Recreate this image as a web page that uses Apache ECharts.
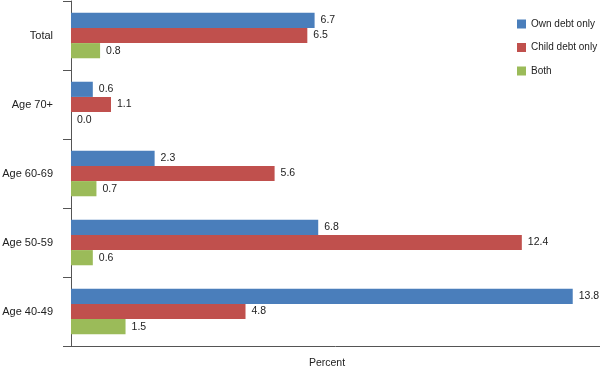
<!DOCTYPE html>
<html><head><meta charset="utf-8">
<script src="https://cdn.jsdelivr.net/npm/echarts@6/dist/echarts.min.js"></script>
<style>html,body{margin:0;padding:0;background:#fff}#c{width:600px;height:369px}</style>
</head><body><div id="c"></div>
<script>
var categories = ['Total', 'Age 70+', 'Age 60-69', 'Age 50-59', 'Age 40-49'];
var ownDebt = [6.7, 0.6, 2.3, 6.8, 13.8];
var childDebt = [6.5, 1.1, 5.6, 12.4, 4.8];
var both = [0.8, 0.0, 0.7, 0.6, 1.5];
var seriesNames = ['Own debt only', 'Child debt only', 'Both'];
var colors = ['#4a7ebb', '#c0504d', '#9bbb59'];
var font = '"Liberation Sans Narrow", "Arial Narrow", "Liberation Sans", Arial, sans-serif';

function mk(name, data, color) {
  return {
    name: name, type: 'bar', data: data, barGap: '0%', barCategoryGap: '34%',
    itemStyle: { color: color },
    label: { show: true, position: 'right', distance: 6, color: '#222', fontSize: 10.5, fontFamily: font,
      formatter: function (p) { return p.value.toFixed(1); } }
  };
}
var chart = echarts.init(document.getElementById('c'));
chart.setOption({
  animation: false,
  textStyle: { fontFamily: font },
  grid: { left: 71, right: 0, top: 1, bottom: 23, containLabel: false, outerBoundsMode: 'none' },
  title: { text: 'Percent', left: 322, top: 353, textAlign: 'center',
    textStyle: { fontSize: 10.5, fontWeight: 'normal', color: '#222', fontFamily: font } },
  legend: {
    orient: 'vertical', left: 512, top: 14, itemWidth: 9, itemHeight: 9, itemGap: 13.5,
    icon: 'rect', data: seriesNames,
    textStyle: { fontSize: 10, color: '#222', fontFamily: font }
  },
  xAxis: { type: 'value', min: 0, max: 14.55, show: true,
    axisLine: { show: true, lineStyle: { color: '#555' } }, axisTick: { show: false },
    axisLabel: { show: false }, splitLine: { show: false } },
  yAxis: { type: 'category', data: categories, inverse: true,
    axisLine: { lineStyle: { color: '#555' } },
    axisTick: { show: true, length: 8, lineStyle: { color: '#555' } },
    axisLabel: { margin: 18, fontSize: 11, color: '#222', fontFamily: font } },
  series: [mk(seriesNames[0], ownDebt, colors[0]), mk(seriesNames[1], childDebt, colors[1]), mk(seriesNames[2], both, colors[2])]
});
</script></body></html>
